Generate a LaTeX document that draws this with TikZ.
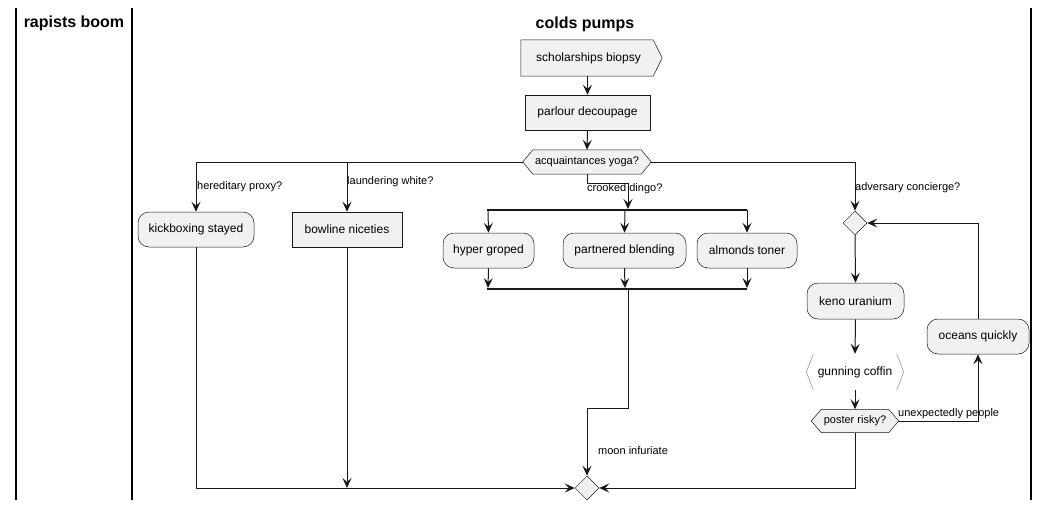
\documentclass[tikz,border=0pt]{standalone}
\usepackage{fontspec}
\setmainfont{Liberation Sans}
\usetikzlibrary{arrows.meta,backgrounds,calc,shapes.geometric}
\definecolor{nodefill}{HTML}{F1F1F1}
\definecolor{ln}{HTML}{181818}
\begin{document}
\begin{tikzpicture}[x=1pt,y=-1pt,
  base/.style={inner sep=0pt, align=center, font=\fontsize{12}{14}\selectfont},
  act/.style={base, draw=ln, fill=nodefill, line width=0.5pt, rounded corners=11pt},
  boxed/.style={base, draw=ln, fill=nodefill, line width=0.5pt},
  bare/.style={base},
  hexa/.style={base, font=\fontsize{11}{13}\selectfont},
  shapeline/.style={draw=ln, fill=nodefill, line width=0.5pt},
  dia/.style={shape=diamond, draw=ln, fill=nodefill, line width=0.5pt, minimum width=24pt, minimum height=24pt, inner sep=0pt},
  lab/.style={font=\fontsize{11}{13}\selectfont, anchor=west, inner sep=0pt},
  lane/.style={font=\fontsize{16}{18}\selectfont\bfseries, inner sep=0pt},
  laneline/.style={draw=black, line width=1.5pt},
  conn/.style={draw=ln, line width=1pt},
  arr/.style={conn, -{Stealth[length=10pt,width=9pt,inset=4pt]}},
  bar/.style={draw=ln, line width=2pt}
]
\useasboundingbox (0,0) rectangle (1051,511);

% swimlanes
\coordinate (l1t) at (16,8);   \coordinate (l1b) at (16,500);
\coordinate (l2t) at (132,8);  \coordinate (l2b) at (132,500);
\coordinate (l3t) at (1031,8); \coordinate (l3b) at (1031,500);
\draw[laneline] (l1t) -- (l1b);
\draw[laneline] (l2t) -- (l2b);
\draw[laneline] (l3t) -- (l3b);
\node[lane] (t1) at (74,23) {rapists boom};
\node[lane] (t2) at (585,24) {colds pumps};

% nodes
\node[bare, minimum width=141pt, minimum height=36pt] (sb) at (591.5,58) {scholarships biopsy\hspace{6pt}};
\begin{scope}[on background layer]
\path[shapeline] (sb.north west) -- ([xshift=-9pt]sb.north east) -- (sb.east) -- ([xshift=-9pt]sb.south east) -- (sb.south west) -- cycle;
\end{scope}
\node[boxed, minimum width=125pt, minimum height=35pt] (pd) at (587.5,112.5) {parlour decoupage};
\node[hexa, minimum width=128pt, minimum height=24pt] (ay) at (587,162) {acquaintances yoga?};
\begin{scope}[on background layer]
\path[shapeline] (ay.west) -- ([xshift=10pt]ay.north west) -- ([xshift=-10pt]ay.north east) -- (ay.east) -- ([xshift=-10pt]ay.south east) -- ([xshift=10pt]ay.south west) -- cycle;
\end{scope}

\node[act, minimum width=116pt, minimum height=35pt] (ks) at (196,229.5) {kickboxing stayed};
\node[boxed, minimum width=110pt, minimum height=35pt] (bn) at (347,229.5) {bowline niceties};

\coordinate (fl) at (487,210); \coordinate (fr) at (747,210);
\coordinate (jl) at (487,289); \coordinate (jr) at (747,289);
\node[act, minimum width=91pt, minimum height=35pt] (hg) at (488.5,250.5) {hyper groped};
\node[act, minimum width=123pt, minimum height=35pt] (pb) at (624.5,250.5) {partnered blending};
\node[act, minimum width=100pt, minimum height=35pt] (at) at (747,250.5) {almonds toner};

\node[dia] (d2) at (855,223) {};
\node[act, minimum width=97pt, minimum height=36pt] (ku) at (855.5,301) {keno uranium};
\node[bare, minimum width=97pt, minimum height=36pt] (gc) at (855,372) {gunning coffin};
\draw[draw=gray!80, line width=0.6pt] ([xshift=7pt]gc.north west) -- (gc.west) -- ([xshift=7pt]gc.south west);
\draw[draw=gray!80, line width=0.6pt] ([xshift=-7pt]gc.north east) -- (gc.east) -- ([xshift=-7pt]gc.south east);
\node[hexa, minimum width=87pt, minimum height=23pt] (pr) at (855,421) {poster risky?};
\begin{scope}[on background layer]
\path[shapeline] (pr.west) -- ([xshift=10pt]pr.north west) -- ([xshift=-10pt]pr.north east) -- (pr.east) -- ([xshift=-10pt]pr.south east) -- ([xshift=10pt]pr.south west) -- cycle;
\end{scope}
\node[act, minimum width=102pt, minimum height=35pt] (oq) at (978,336.5) {oceans quickly};

\node[dia] (mg) at (587,488) {};

% bars
\draw[bar] (fl) -- (fr);
\draw[bar] (jl) -- (jr);

% connectors
\draw[arr] (sb.south -| pd.north) -- (pd.north);
\draw[arr] (pd.south) -- (ay.north);
\draw[arr] (ay.west) -| (ks.north);
\draw[arr] (ay.west) -| (bn.north);
\draw[arr] (ay.east) -| (d2.north);
\coordinate (c1) at (587,183); \coordinate (c2) at (628,183); \coordinate (c3) at (628,209);
\draw[arr] (ay.south) -- (c1) -- (c2) -- (c3);
\node[lab] (lhp) at (197,187) {hereditary proxy?};
\node[lab] (llw) at (347,182) {laundering white?};
\node[lab] (lcd) at (587,189) {crooked dingo?};
\node[lab] (lac) at (855,188) {adversary concierge?};

\coordinate (f1) at (488,210); \coordinate (f2) at (625,210); \coordinate (f3) at (747,210);
\draw[arr] (f1) -- (hg.north);
\draw[arr] (f2) -- (pb.north);
\draw[arr] (f3) -- (at.north);
\coordinate (j1) at (488,288); \coordinate (j2) at (625,288); \coordinate (j3) at (747,288);
\draw[arr] (hg.south) -- (j1);
\draw[arr] (pb.south) -- (j2);
\draw[arr] (at.south) -- (j3);

\coordinate (m0) at (628,290); \coordinate (m1) at (628,408); \coordinate (m2) at (587,408);
\draw[arr] (m0) -- (m1) -- (m2) -- (mg.north);
\node[lab] (lmi) at (598,451) {moon infuriate};

\coordinate (k1) at (196,488);
\draw[arr] (ks.south) -- (k1) -- (mg.west);
\coordinate (b1) at (347,488);
\draw[arr] (bn.south) -- (b1);
\coordinate (p1) at (855,488);
\draw[arr] (pr.south) -- (p1) -- (mg.east);

\draw[arr] (d2.south) -- (ku.north);
\draw[arr] (ku.south) -- (gc.north);
\draw[arr] (gc.south) -- (pr.north);
\draw[arr] (pr.east) -| (oq.south);
\node[lab] (lup) at (898,414) {unexpectedly people};
\draw[arr] (oq.north) |- (d2.east);
\end{tikzpicture}
\end{document}
